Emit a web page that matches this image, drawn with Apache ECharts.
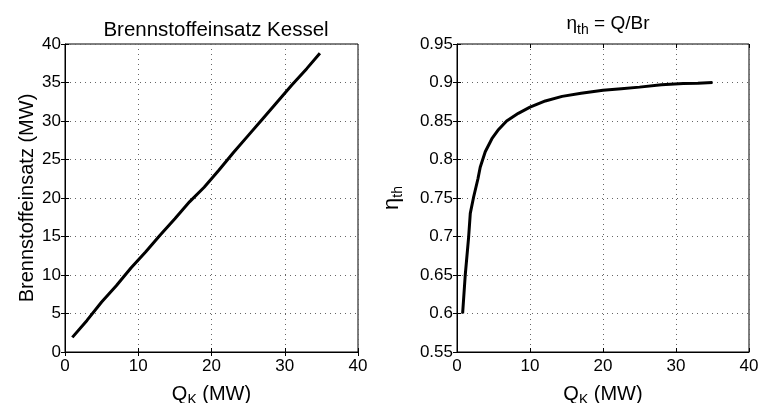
<!DOCTYPE html>
<html><head><meta charset="utf-8">
<script src="https://cdn.jsdelivr.net/npm/echarts@6/dist/echarts.min.js"></script>
<style>html,body{margin:0;padding:0;background:#fff}#c{width:758px;height:403px}</style>
</head><body><div id="c"></div>
<script>
// Left: Brennstoffeinsatz vs Q_K
const qLeft  = [1, 3, 5, 7, 9, 11, 13, 15, 17, 19, 21, 23, 25, 27, 29, 31, 33, 34.8];
const brLeft = [1.9, 4.1, 6.5, 8.6, 10.9, 13.0, 15.2, 17.3, 19.5, 21.4, 23.6, 25.9, 28.1, 30.3, 32.5, 34.7, 36.8, 38.8];
// Right: eta_th vs Q_K
const qRight   = [0.77, 1.13, 1.59, 1.82, 2.27, 2.87, 3.18, 3.87, 4.78, 5.7, 6.8, 8.4, 10.0, 12.1, 14.4, 17.0, 20.0, 22.5, 25.0, 28.0, 31.0, 33.0, 35.0];
const etaRight = [0.600, 0.650, 0.699, 0.730, 0.751, 0.775, 0.790, 0.810, 0.827, 0.839, 0.850, 0.860, 0.868, 0.876, 0.882, 0.886, 0.890, 0.892, 0.894, 0.897, 0.8986, 0.899, 0.900];
const xTicks = [0, 10, 20, 30, 40];

const FONT = 'Liberation Sans, Arial, sans-serif';
const LBL = 17, NAME = 20;
const chart = echarts.init(document.getElementById('c'));
const grids = [
  {left: 65, right: 400, top: 44, bottom: 51, show: true, borderColor: '#000', borderWidth: 1, outerBoundsMode: 'none', containLabel: false},
  {left: 457, right: 9, top: 44, bottom: 51, show: true, borderColor: '#000', borderWidth: 1, outerBoundsMode: 'none', containLabel: false}
];
const gridLine = {show: true, lineStyle: {color: '#666', type: [1, 4], width: 1}};
function xAxis(gi){
  return {type: 'value', gridIndex: gi, min: xTicks[0], max: xTicks[xTicks.length - 1], interval: 10,
    axisLine: {lineStyle: {color: '#000', width: 1}},
    axisTick: {inside: true, length: 4, lineStyle: {color: '#000'}},
    axisLabel: {color: '#000', fontSize: LBL, fontFamily: FONT, margin: 6},
    splitLine: gridLine,
    name: '{a|Q}{b|K}{a| (MW)}', nameLocation: 'middle', nameGap: 29,
    nameTextStyle: {rich: {a: {fontSize: NAME, fontFamily: FONT, color: '#000'}, b: {fontSize: 14, fontFamily: FONT, color: '#000', padding: [12, 0, 0, 0]}}}
  };
}
function xTop(gi){
  return {type: 'value', gridIndex: gi, position: 'top', min: 0, max: 40, interval: 10,
    axisLine: {show: false}, axisTick: {inside: true, length: 4, lineStyle: {color: '#000'}},
    axisLabel: {show: false}, splitLine: {show: false}};
}
function yRight(gi, min, max, interval){
  return {type: 'value', gridIndex: gi, position: 'right', min: min, max: max, interval: interval,
    axisLine: {show: false}, axisTick: {show: true, inside: true, length: 4, lineStyle: {color: '#000'}},
    axisLabel: {show: false}, splitLine: {show: false}};
}
function yAxis(gi, min, max, interval, name, rich, gap, fmt){
  return {type: 'value', gridIndex: gi, min: min, max: max, interval: interval,
    axisLine: {show: true, lineStyle: {color: '#000', width: 1}},
    axisTick: {show: true, inside: true, length: 4, lineStyle: {color: '#000'}},
    axisLabel: {color: '#000', fontSize: LBL, fontFamily: FONT, margin: 4, formatter: fmt},
    splitLine: gridLine,
    name: name, nameLocation: 'middle', nameGap: gap, nameRotate: 90,
    nameTextStyle: {fontSize: NAME, fontFamily: FONT, color: '#000', rich: rich}
  };
}
chart.setOption({
  animation: false,
  backgroundColor: '#fff',
  title: [
    {text: 'Brennstoffeinsatz Kessel', left: 211, top: 15, textAlign: 'center',
     textStyle: {fontSize: 20.5, fontWeight: 'normal', fontFamily: FONT, color: '#000'}},
    {text: '{a|η}{b|th}{a| = Q/Br}', left: 603, top: 6, textAlign: 'center',
     textStyle: {fontWeight: 'normal', rich: {a: {fontSize: 19, fontWeight: 'normal', fontFamily: FONT, color: '#000'}, b: {fontSize: 14, fontWeight: 'normal', fontFamily: FONT, color: '#000', padding: [12, 0, 0, 0]}}}}
  ],
  grid: grids,
  xAxis: [xAxis(0), xAxis(1), xTop(0), xTop(1)],
  yAxis: [
    yAxis(0, 0, 40, 5, 'Brennstoffeinsatz (MW)', {}, 28, v => String(v)),
    yAxis(1, 0.55, 0.95, 0.05, '{a|η}{b|th}',
      {a: {fontSize: 22, fontFamily: FONT, color: '#000'}, b: {fontSize: 14, fontFamily: FONT, color: '#000', padding: [12, 0, 0, 0]}},
      52, v => String(Math.round(v * 100) / 100)),
    yRight(0, 0, 40, 5),
    yRight(1, 0.55, 0.95, 0.05)
  ],
  series: [
    {type: 'line', xAxisIndex: 0, yAxisIndex: 0, data: qLeft.map((q, i) => [q, brLeft[i]]),
     showSymbol: false, lineStyle: {color: '#000', width: 3}, smooth: false},
    {type: 'line', xAxisIndex: 1, yAxisIndex: 1, data: qRight.map((q, i) => [q, etaRight[i]]),
     showSymbol: false, lineStyle: {color: '#000', width: 3}, smooth: false}
  ]
});
</script>
</body></html>
